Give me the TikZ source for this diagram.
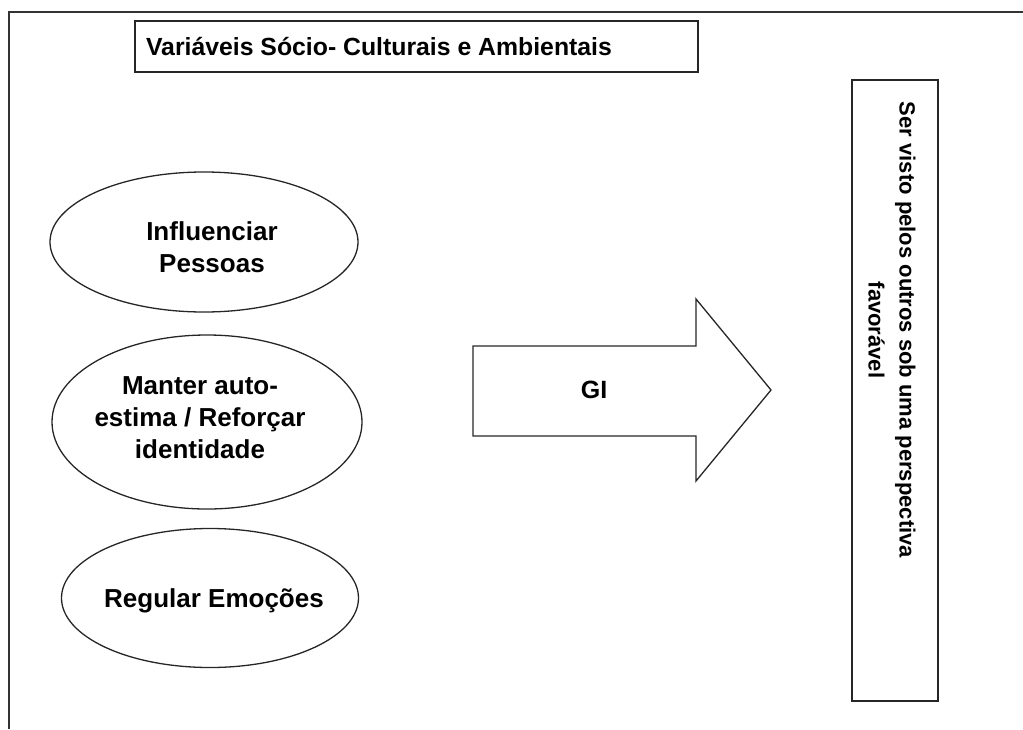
\documentclass[tikz,border=0pt]{standalone}
\usepackage{fontspec}
\setmainfont{Liberation Sans}
\usetikzlibrary{shapes.geometric}
\tikzset{
  frameline/.style={line width=2pt, draw=black!80},
  shapeline/.style={line width=1.3pt, draw=black!85},
  oval/.style={shapeline, ellipse, inner sep=0pt},
  label26/.style={align=center, inner sep=0pt, font=\bfseries\fontsize{26}{32}\selectfont},
  title25/.style={inner sep=0pt, font=\bfseries\fontsize{24.8}{30}\selectfont},
  side22/.style={align=center, inner sep=0pt, rotate=-90, font=\bfseries\fontsize{22}{31}\selectfont}
}
\begin{document}
\begin{tikzpicture}[x=1pt,y=-1pt]
\useasboundingbox (0,0) rectangle (1023,729);
% outer frame (left and top sides)
\coordinate (fbl) at (9,729);
\coordinate (ftl) at (9,12);
\coordinate (ftr) at (1023,12);
\draw[frameline] (fbl) -- (ftl) -- (ftr);
% title box
\node[shapeline, draw, rectangle, minimum width=563pt, minimum height=51pt, inner sep=0pt] (tbox) at (416.5,46.5) {};
\node[title25, anchor=base] (title) at (379,55) {Variáveis Sócio- Culturais e Ambientais};
% ellipses
\node[oval, minimum width=308pt, minimum height=140pt] (e1) at (204,242) {};
\node[label26] (t1) at (212,247) {Influenciar\\Pessoas};
\node[oval, minimum width=310pt, minimum height=174pt] (e2) at (207,422) {};
\node[label26] (t2) at (200,418) {Manter auto-\\estima / Reforçar\\identidade};
\node[oval, minimum width=297pt, minimum height=139pt] (e3) at (210,598) {};
\node[label26, anchor=base] (t3) at (214,607) {Regular Emoções};
% big arrow
\draw[shapeline, line join=miter] (473,346) -- (696,346) -- (696,299) -- (771,390) -- (696,481) -- (696,436) -- (473,436) -- cycle;
\node[title25, font=\bfseries\fontsize{25}{30}\selectfont] (gi) at (594,390) {GI};
% right box
\node[shapeline, draw, rectangle, minimum width=86pt, minimum height=621pt, inner sep=0pt] (rbox) at (895,390.5) {};
\node[side22] (side) at (892,330) {Ser visto pelos outros sob uma perspectiva\\favorável};
\end{tikzpicture}
\end{document}
